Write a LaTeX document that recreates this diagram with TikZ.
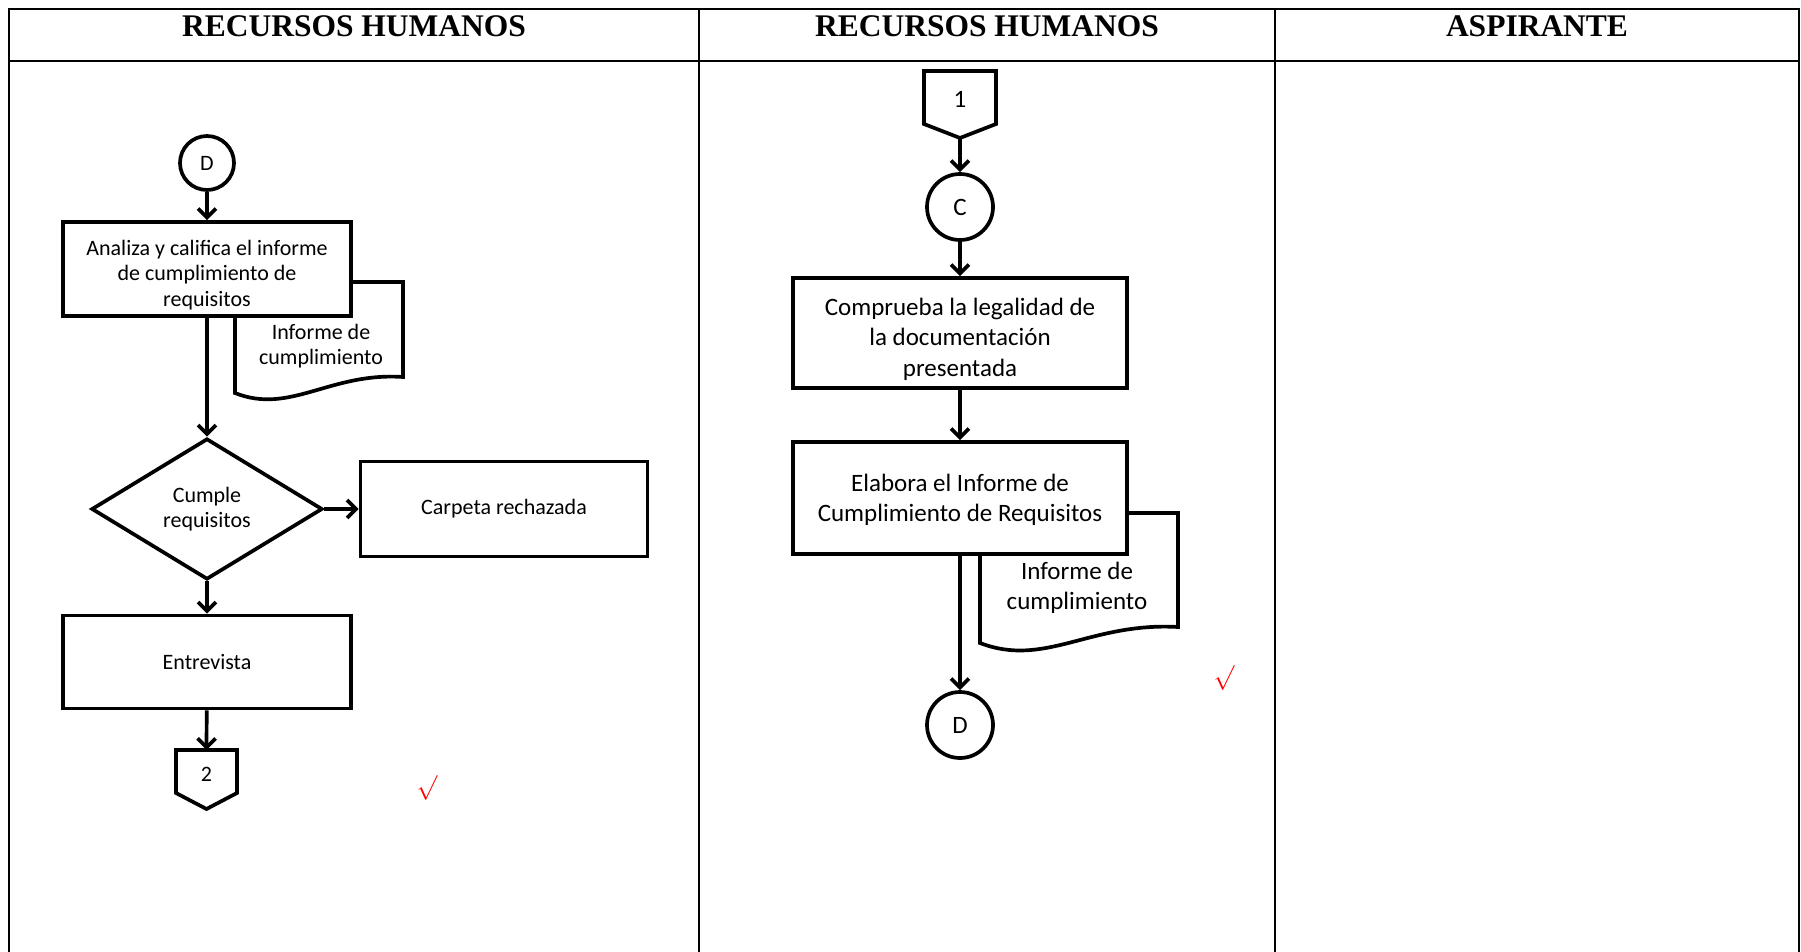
\documentclass[tikz,border=0pt]{standalone}
\usepackage{fontspec}
\setmainfont{Carlito}
\newfontfamily\headfont{Liberation Serif}
\usetikzlibrary{shapes.geometric,arrows.meta}
\begin{document}
\begin{tikzpicture}[x=1pt,y=-1pt,
  procbox/.style={draw,line width=3.7pt,fill=white,align=center,inner sep=0pt},
  connc/.style={draw,line width=3.7pt,fill=white,circle,inner sep=0pt,minimum size=#1},
  flowarrow/.style={line width=3.7pt,-{Straight Barb[length=9pt,width=18pt]}},
  tablerule/.style={line width=2pt},
  headtxt/.style={font=\headfont\bfseries\fontsize{31.5}{34}\selectfont,anchor=base},
  fa/.style={font=\fontsize{22}{25.3}\selectfont},
  fb/.style={font=\fontsize{25}{30.4}\selectfont},
  checkmk/.style={text=red,font=\fontsize{30}{30}\selectfont,inner sep=0pt}
]
\useasboundingbox (0,0) rectangle (1801,952);
\fill[white] (0,0) rectangle (1801,952);

% table
\draw[tablerule] (9,952) -- (9,9) -- (1799,9) -- (1799,952);
\draw[tablerule] (9,61) -- (1799,61);
\draw[tablerule] (699,9) -- (699,952);
\draw[tablerule] (1275,9) -- (1275,952);
\node[headtxt] (h1) at (354,37) {RECURSOS HUMANOS};
\node[headtxt] (h2) at (987,37) {RECURSOS HUMANOS};
\node[headtxt] (h3) at (1537,37) {ASPIRANTE};

% ---------- column 1 ----------
\draw[line width=3.7pt,fill=white] (235,282) -- (403,282) -- (403,377)
  .. controls (330,372) and (290,415) .. (235,393) -- cycle;
\node[fa,align=center] (doc1) at (321,346) {Informe de\\cumplimiento};

\node[connc=54pt,fa] (d1) at (207,163) {D};
\node[procbox,minimum width=288pt,minimum height=94pt] (b1) at (207,269) {};
\node[fa,align=center] (b1t) at (207,275)
  {Analiza y califica el informe\\de cumplimiento de\\requisitos};
\node[procbox,fa,diamond,minimum width=231pt,minimum height=141pt] (dec) at (207,509)
  {Cumple\\requisitos};
\node[procbox,fa,minimum width=287pt,minimum height=95pt] (rej) at (504,509)
  {Carpeta rechazada};
\node[procbox,fa,minimum width=288pt,minimum height=93pt] (ent) at (207,662)
  {Entrevista};
\draw[line width=3.7pt,fill=white] (176,750) -- (237,750) -- (237,793) -- (206.5,809) -- (176,793) -- cycle;
\coordinate (o2top) at (206.5,750);
\node[fa] (o2) at (206.5,774) {2};

\draw[flowarrow] (d1) -- (b1);
\draw[flowarrow] (b1) -- (dec);
\draw[flowarrow] (dec) -- (rej);
\draw[flowarrow] (dec) -- (ent);
\draw[flowarrow] (ent) -- (o2top);

\node[checkmk] (ck1) at (427,788) {$\surd$};

% ---------- column 2 ----------
\draw[line width=3.7pt,fill=white] (924,71) -- (996,71) -- (996,124) -- (960,138) -- (924,124) -- cycle;
\coordinate (o1tip) at (960,138);
\node[fb] (o1) at (960,99) {1};

\draw[line width=3.7pt,fill=white] (980,513) -- (1178,513) -- (1178,627)
  .. controls (1090,622) and (1045,668) .. (980,643) -- cycle;
\node[fb,align=center] (doc2) at (1077,588) {Informe de\\cumplimiento};

\node[connc=66pt,fb] (c2) at (960,207) {C};
\node[procbox,minimum width=334pt,minimum height=110pt] (b2) at (960,333) {};
\node[fb,align=center] (b2t) at (960,339)
  {Comprueba la legalidad de\\la documentación\\presentada};
\node[procbox,minimum width=334pt,minimum height=112pt] (b3) at (960,498) {};
\node[fb,align=center] (b3t) at (960,500)
  {Elabora el Informe de\\Cumplimiento de Requisitos};
\node[connc=66pt,fb] (d2) at (960,725) {D};

\draw[flowarrow] (o1tip) -- (c2);
\draw[flowarrow] (c2) -- (b2);
\draw[flowarrow] (b2) -- (b3);
\draw[flowarrow] (b3) -- (d2);

\node[checkmk] (ck2) at (1224,678) {$\surd$};
\end{tikzpicture}
\end{document}
